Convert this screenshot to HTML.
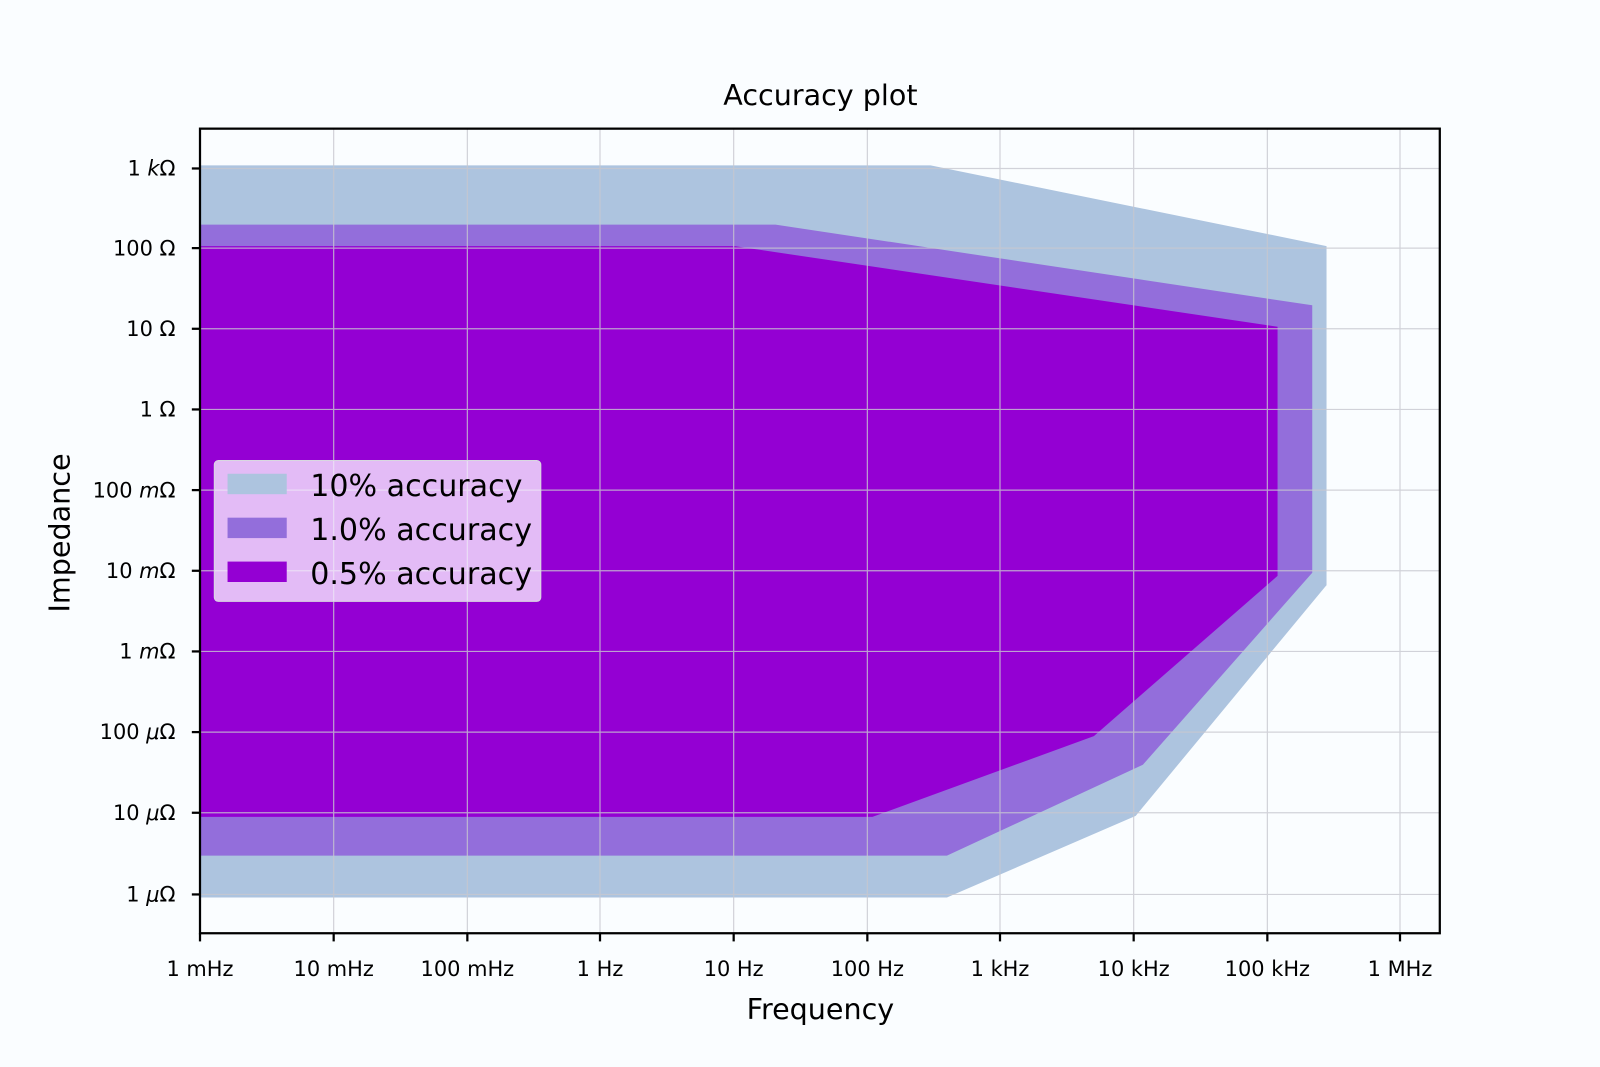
<!DOCTYPE html>
<html><head><style>html,body{margin:0;padding:0;background:#fafdff;}svg{display:block}</style></head>
<body>
<svg width="1600" height="1067" viewBox="0 0 1568 1045" preserveAspectRatio="none" xmlns="http://www.w3.org/2000/svg" font-family="DejaVu Sans, Liberation Sans, sans-serif">
<rect width="1568" height="1045" fill="#fafdff"/>
<polygon points="196,162 912,162 1300,241 1300,573 1113,799 928,879 196,879" fill="#adc4df"/>
<polygon points="196,220 760,220 1286,299 1286,561 1120,749 928,838 196,838" fill="#936edb"/>
<polygon points="196,241 720,241 1252,320 1252,564 1072,721 855,800 196,800" fill="#9400d3"/>
<g stroke="#c8c8d0" stroke-width="1.2" opacity="0.8">
<line x1="327" y1="126" x2="327" y2="914"/><line x1="458" y1="126" x2="458" y2="914"/><line x1="588" y1="126" x2="588" y2="914"/><line x1="719" y1="126" x2="719" y2="914"/><line x1="850" y1="126" x2="850" y2="914"/><line x1="980" y1="126" x2="980" y2="914"/><line x1="1111" y1="126" x2="1111" y2="914"/><line x1="1242" y1="126" x2="1242" y2="914"/><line x1="1372" y1="126" x2="1372" y2="914"/>
<line x1="196" y1="165" x2="1411" y2="165"/><line x1="196" y1="243" x2="1411" y2="243"/><line x1="196" y1="322" x2="1411" y2="322"/><line x1="196" y1="401" x2="1411" y2="401"/><line x1="196" y1="480" x2="1411" y2="480"/><line x1="196" y1="559" x2="1411" y2="559"/><line x1="196" y1="638" x2="1411" y2="638"/><line x1="196" y1="717" x2="1411" y2="717"/><line x1="196" y1="796" x2="1411" y2="796"/><line x1="196" y1="876" x2="1411" y2="876"/>
</g>
<rect x="196" y="126" width="1215" height="788" fill="none" stroke="#000" stroke-width="2.2"/>
<g stroke="#000" stroke-width="2.2">
<line x1="196" y1="914" x2="196" y2="922"/><line x1="327" y1="914" x2="327" y2="922"/><line x1="458" y1="914" x2="458" y2="922"/><line x1="588" y1="914" x2="588" y2="922"/><line x1="719" y1="914" x2="719" y2="922"/><line x1="850" y1="914" x2="850" y2="922"/><line x1="980" y1="914" x2="980" y2="922"/><line x1="1111" y1="914" x2="1111" y2="922"/><line x1="1242" y1="914" x2="1242" y2="922"/><line x1="1372" y1="914" x2="1372" y2="922"/>
<line x1="188" y1="165" x2="196" y2="165"/><line x1="188" y1="243" x2="196" y2="243"/><line x1="188" y1="322" x2="196" y2="322"/><line x1="188" y1="401" x2="196" y2="401"/><line x1="188" y1="480" x2="196" y2="480"/><line x1="188" y1="559" x2="196" y2="559"/><line x1="188" y1="638" x2="196" y2="638"/><line x1="188" y1="717" x2="196" y2="717"/><line x1="188" y1="796" x2="196" y2="796"/><line x1="188" y1="876" x2="196" y2="876"/>
</g>
<g font-size="20.5" text-anchor="middle" fill="#000">
<text x="196" y="956">1 mHz</text><text x="327" y="956">10 mHz</text><text x="458" y="956">100 mHz</text><text x="588" y="956">1 Hz</text><text x="719" y="956">10 Hz</text><text x="850" y="956">100 Hz</text><text x="980" y="956">1 kHz</text><text x="1111" y="956">10 kHz</text><text x="1242" y="956">100 kHz</text><text x="1372" y="956">1 MHz</text>
</g>
<g font-size="20.5" text-anchor="end" fill="#000">
<text x="172" y="172">1 <tspan font-style="italic">k</tspan>Ω</text>
<text x="172" y="250">100 Ω</text>
<text x="172" y="329">10 Ω</text>
<text x="172" y="408">1 Ω</text>
<text x="172" y="487">100 <tspan font-style="italic">m</tspan>Ω</text>
<text x="172" y="566">10 <tspan font-style="italic">m</tspan>Ω</text>
<text x="172" y="645">1 <tspan font-style="italic">m</tspan>Ω</text>
<text x="172" y="724">100 <tspan font-style="italic">μ</tspan>Ω</text>
<text x="172" y="803">10 <tspan font-style="italic">μ</tspan>Ω</text>
<text x="172" y="883">1 <tspan font-style="italic">μ</tspan>Ω</text>
</g>
<text x="804" y="103" font-size="28" text-anchor="middle">Accuracy plot</text>
<text x="804" y="998" font-size="28" text-anchor="middle">Frequency</text>
<text transform="translate(68,522) rotate(-90)" font-size="28" text-anchor="middle">Impedance</text>
<rect x="210" y="451" width="320" height="138" rx="4" fill="#f6eaff" fill-opacity="0.8" stroke="#d8d8e0"/>
<rect x="223" y="464" width="58" height="20" fill="#adc4df"/>
<rect x="223" y="507" width="58" height="20" fill="#936edb"/>
<rect x="223" y="550" width="58" height="20" fill="#9400d3"/>
<g font-size="29.5" fill="#000">
<text x="304" y="486">10% accuracy</text>
<text x="304" y="529">1.0% accuracy</text>
<text x="304" y="572">0.5% accuracy</text>
</g>
</svg>
</body></html>
